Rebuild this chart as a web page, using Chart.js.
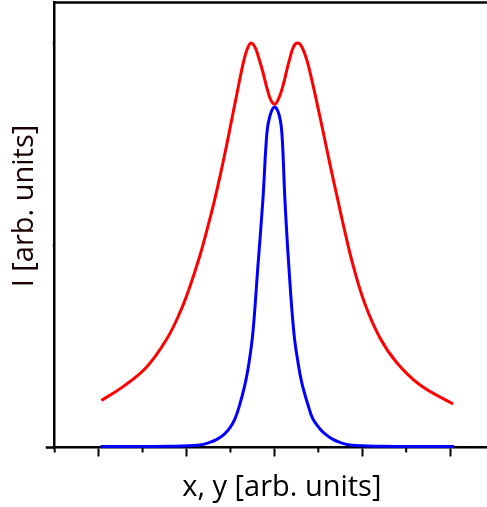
<!DOCTYPE html>
<html>
<head>
<meta charset="utf-8">
<script src="https://cdn.jsdelivr.net/npm/chart.js@4.4.1/dist/chart.umd.min.js"></script>
<style>
  html, body { margin: 0; padding: 0; overflow: hidden; background: #fff; }
</style>
</head>
<body>
<canvas id="myChart" width="509" height="507"></canvas>
<script>
// red curve (double peak)
const redX = [-1.969, -1.726, -1.453, -1.225, -1.077, -0.963, -0.849, -0.758, -0.678, -0.598,
  -0.541, -0.484, -0.427, -0.359, -0.313, -0.268, -0.222, -0.188, -0.131, -0.085,
  -0.040, 0.006, 0.051, 0.097, 0.142, 0.177, 0.222, 0.268, 0.313, 0.370,
  0.439, 0.519, 0.553, 0.632, 0.712, 0.803, 0.895, 1.031, 1.202, 1.396, 1.658, 2.034];
const redY = [0.233, 0.300, 0.399, 0.537, 0.666, 0.795, 0.948, 1.092, 1.230, 1.384,
  1.502, 1.626, 1.750, 1.894, 1.968, 2.002, 1.983, 1.943, 1.859, 1.780,
  1.720, 1.700, 1.730, 1.790, 1.869, 1.928, 1.988, 2.002, 1.983, 1.918,
  1.795, 1.636, 1.567, 1.403, 1.245, 1.067, 0.903, 0.710, 0.542, 0.418, 0.309, 0.215];

// blue curve (single narrow peak)
const blueX = [-1.977, -1.191, -0.849, -0.735, -0.655, -0.575, -0.507, -0.450, -0.405, -0.336,
  -0.291, -0.245, -0.188, -0.131, -0.085, -0.051, 0.000, 0.051, 0.085, 0.120,
  0.165, 0.222, 0.268, 0.313, 0.393, 0.439, 0.519, 0.587, 0.667, 0.746,
  0.860, 1.202, 2.046];
const blueY = [0.005, 0.006, 0.012, 0.025, 0.040, 0.064, 0.097, 0.141, 0.196, 0.309,
  0.413, 0.567, 0.894, 1.225, 1.557, 1.641, 1.686, 1.651, 1.557, 1.225,
  0.894, 0.567, 0.423, 0.319, 0.196, 0.141, 0.092, 0.064, 0.040, 0.025,
  0.012, 0.006, 0.005];

const xMajorTicks = [-2, -1, 0, 1, 2];
const xMinorTicks = [-2.5, -1.5, -0.5, 0.5, 1.5, 2.5];
const yTicks = [0, 1, 2];

const xTitle = 'x, y [arb. units]';
const yTitle = 'I [arb. units]';
const fontFamily = '"Open Sans", Lato, sans-serif';

// top frame line, minor ticks, y title
const framePlugin = {
  id: 'frame',
  afterDraw(chart) {
    const {ctx, chartArea} = chart;
    const xs = chart.scales.x;
    ctx.save();
    ctx.strokeStyle = '#000';
    ctx.lineWidth = 2.5;
    ctx.beginPath();
    ctx.moveTo(chartArea.left - 1.25, chartArea.top);
    ctx.lineTo(chartArea.right, chartArea.top);
    ctx.stroke();

    ctx.beginPath();
    ctx.moveTo(chartArea.left - 9, chartArea.bottom);
    ctx.lineTo(chartArea.left, chartArea.bottom);
    ctx.stroke();

    ctx.lineWidth = 2;
    xMinorTicks.forEach(v => {
      const px = xs.getPixelForValue(v);
      ctx.beginPath();
      ctx.moveTo(px, chartArea.bottom);
      ctx.lineTo(px, chartArea.bottom + 5);
      ctx.stroke();
    });

    ctx.translate(25, 206);
    ctx.rotate(-Math.PI / 2);
    ctx.fillStyle = '#1a0000';
    ctx.font = '29px ' + fontFamily;
    ctx.textAlign = 'center';
    ctx.textBaseline = 'middle';
    ctx.fillText(yTitle, 0, 0);
    ctx.restore();
  }
};

new Chart(document.getElementById('myChart').getContext('2d'), {
  type: 'line',
  data: {
    datasets: [{
      label: 'red',
      data: redX.map((x, i) => ({x: x, y: redY[i]})),
      borderColor: '#ff0000',
      borderWidth: 3,
      pointRadius: 0,
      tension: 0.4,
      clip: false,
      order: 0
    }, {
      label: 'blue',
      data: blueX.map((x, i) => ({x: x, y: blueY[i]})),
      borderColor: '#0000ff',
      borderWidth: 3,
      pointRadius: 0,
      tension: 0.4,
      clip: false,
      order: 1
    }]
  },
  options: {
    responsive: false,
    animation: false,
    devicePixelRatio: 1,
    layout: {padding: {top: 2.5, left: 52.7, right: 0, bottom: 0}},
    plugins: {legend: {display: false}, tooltip: {enabled: false}},
    scales: {
      x: {
        type: 'linear',
        min: -2.5,
        max: 2.67,
        afterBuildTicks: (s) => { s.ticks = xMajorTicks.map(v => ({value: v})); },
        ticks: {display: false},
        grid: {drawOnChartArea: false, drawTicks: true, tickLength: 9, tickWidth: 2, tickColor: '#000'},
        border: {display: true, color: '#000', width: 2.5},
        title: {
          display: true,
          text: xTitle,
          color: '#000',
          font: {family: fontFamily, size: 29, lineHeight: 1.2},
          padding: {top: 14.1, bottom: 1.6}
        }
      },
      y: {
        type: 'linear',
        min: 0,
        max: 2.203,
        afterBuildTicks: (s) => { s.ticks = yTicks.map(v => ({value: v})); },
        ticks: {display: false},
        grid: {drawOnChartArea: false, drawTicks: true, tickLength: 2, tickWidth: 2, tickColor: '#000'},
        border: {display: true, color: '#000', width: 2.5}
      }
    }
  },
  plugins: [framePlugin]
});
</script>
</body>
</html>
